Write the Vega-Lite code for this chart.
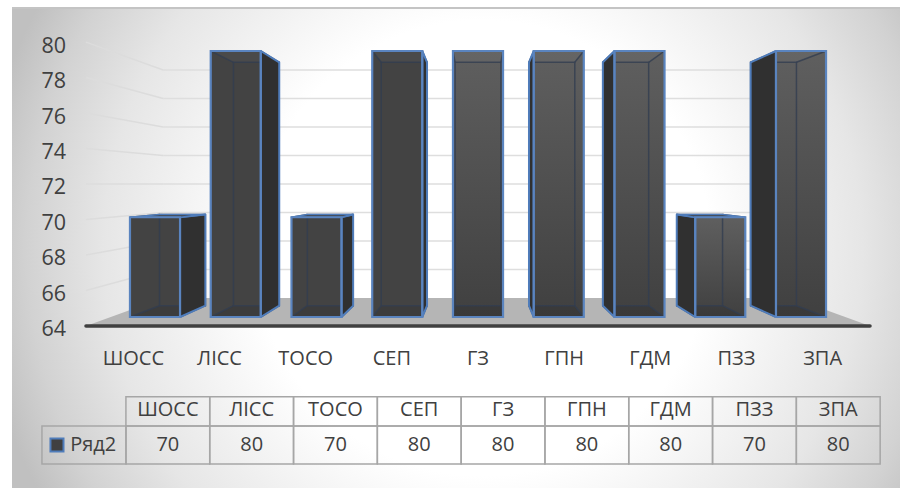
{
"$schema":"https://vega.github.io/schema/vega-lite/v6.json",
"width":888,"height":480,"autosize":{"type":"none"},
"padding":{"left":12,"top":8,"right":0,"bottom":0},
"background":"#ffffff",
"config":{"view":{"stroke":null},"axis":{"disable":true},"text":{"font":"Open Sans","fill":"#404040"}},
"datasets":{
"bars":[{"cat":"ШОСС","value":70},{"cat":"ЛІСС","value":80},{"cat":"ТОСО","value":70},{"cat":"СЕП","value":80},{"cat":"ГЗ","value":80},{"cat":"ГПН","value":80},{"cat":"ГДМ","value":80},{"cat":"ПЗЗ","value":70},{"cat":"ЗПА","value":80}],
"ticks":[{"tick":64},{"tick":66},{"tick":68},{"tick":70},{"tick":72},{"tick":74},{"tick":76},{"tick":78},{"tick":80}],
"planes":[{"plane":"front"},{"plane":"back"}],
"series":[{"name":"Ряд2"}]
},
"layer":[
{"data":{"values":[{}]},"mark":{"type":"rect","fill":{"gradient":"radial","x1":0.53,"y1":0.5,"r1":0,"x2":0.53,"y2":0.5,"r2":0.57,"stops":[{"offset":0,"color":"#ffffff"},{"offset":0.45,"color":"#ffffff"},{"offset":0.75,"color":"#e6e6e6"},{"offset":0.9,"color":"#d2d2d2"},{"offset":1,"color":"#c0c0c0"}]}}},
{"data":{"values":[{}]},"mark":{"type":"rule","color":"#c4c4c4","strokeWidth":2},
"encoding":{"y":{"datum":10.586,"type":"quantitative","scale":{"domain":[-18.286,10.586],"nice":false,"zero":false}}}},

{"data":{"name":"ticks"},
"transform":[{"calculate":"(datum.tick-72)*0.857","as":"yb"},{"calculate":"(datum.tick-72)*1.067","as":"yf"},{"calculate":"-4.55*0.857","as":"xl"},{"calculate":"4.55*0.857","as":"xr"},{"calculate":"-4.55*1.067","as":"xa"}],
"layer":[
{"transform":[{"filter":"datum.tick>64"}],"mark":{"type":"rule","color":"#dedede","strokeWidth":1.5},
"encoding":{"x":{"field":"xl","type":"quantitative","scale":{"domain":[-5.771,5.226],"nice":false,"zero":false}},"x2":{"field":"xr"},"y":{"field":"yb","type":"quantitative","scale":{"domain":[-18.286,10.586],"nice":false,"zero":false}}}},
{"transform":[{"filter":"datum.tick>64"}],"mark":{"type":"rule","color":"#dcdcdc","strokeWidth":1.5},
"encoding":{"x":{"field":"xa","type":"quantitative","scale":{"domain":[-5.771,5.226],"nice":false,"zero":false}},"x2":{"field":"xl"},"y":{"field":"yf","type":"quantitative","scale":{"domain":[-18.286,10.586],"nice":false,"zero":false}},"y2":{"field":"yb"}}},
{"mark":{"type":"text","align":"right","baseline":"middle","dx":-20,"dy":4.5,"fontSize":21.5},
"encoding":{"x":{"field":"xa","type":"quantitative","scale":{"domain":[-5.771,5.226],"nice":false,"zero":false}},"y":{"field":"yf","type":"quantitative","scale":{"domain":[-18.286,10.586],"nice":false,"zero":false}},"text":{"field":"tick"}}}
]},

{"data":{"name":"planes"},
"transform":[{"calculate":"datum.plane=='front'?1.067:0.857","as":"w"},{"calculate":"-8*datum.w","as":"Y"},{"calculate":"-4.55*datum.w","as":"xl"},{"calculate":"4.55*datum.w","as":"xr"}],
"mark":{"type":"area","orient":"horizontal","fill":"#b5b5b5"},
"encoding":{"y":{"field":"Y","type":"quantitative","scale":{"domain":[-18.286,10.586],"nice":false,"zero":false}},"x":{"field":"xl","type":"quantitative","scale":{"domain":[-5.771,5.226],"nice":false,"zero":false}},"x2":{"field":"xr"}}},

{"data":{"name":"planes"},
"transform":[{"filter":"datum.plane=='front'"},{"calculate":"-8*1.067","as":"Y"},{"calculate":"-4.55*1.067","as":"xl"},{"calculate":"4.55*1.067","as":"xr"}],
"mark":{"type":"rule","color":"#404040","strokeWidth":3.5,"strokeCap":"round"},
"encoding":{"y":{"field":"Y","type":"quantitative","scale":{"domain":[-18.286,10.586],"nice":false,"zero":false}},"x":{"field":"xl","type":"quantitative","scale":{"domain":[-5.771,5.226],"nice":false,"zero":false}},"x2":{"field":"xr"}}},

{"data":{"name":"bars"},
"transform":[
{"window":[{"op":"row_number","as":"n"}]},
{"calculate":"datum.n-5","as":"c"},
{"calculate":"0.31","as":"hw"},
{"calculate":"0.915","as":"wb"},
{"calculate":"datum.c-datum.hw","as":"xf0"},
{"calculate":"datum.c+datum.hw","as":"xf1"},
{"calculate":"datum.xf0*datum.wb","as":"xb0"},
{"calculate":"datum.xf1*datum.wb","as":"xb1"},
{"calculate":"datum.value-72","as":"yf"},
{"calculate":"-8","as":"y0f"},
{"calculate":"datum.yf*datum.wb","as":"yb"},
{"calculate":"datum.y0f*datum.wb","as":"y0b"},
{"calculate":"datum.c*1.067","as":"xlab"},
{"calculate":"-8*1.067","as":"ylab"},
{"calculate":"datum.c*1.0378+0.31","as":"tx"},
{"calculate":"datum.tx-0.519","as":"tx0"},
{"calculate":"datum.tx+0.519","as":"tx1"}
],
"layer":[
{"transform":[{"filter":"datum.c<0"}],"mark":{"type":"rect","fill":"#434343"},
"encoding":{"x":{"field":"xf0","type":"quantitative","scale":{"domain":[-5.771,5.226],"nice":false,"zero":false}},"x2":{"field":"xf1"},"y":{"field":"yf","type":"quantitative","scale":{"domain":[-18.286,10.586],"nice":false,"zero":false}},"y2":{"field":"y0f"}}},
{"transform":[{"filter":"datum.c>=0"}],"mark":{"type":"rect","fill":{"gradient":"linear","x1":0,"y1":0,"x2":0,"y2":1,"stops":[{"offset":0,"color":"#5f5f5f"},{"offset":1,"color":"#404040"}]}},
"encoding":{"x":{"field":"xf0","type":"quantitative","scale":{"domain":[-5.771,5.226],"nice":false,"zero":false}},"x2":{"field":"xf1"},"y":{"field":"yf","type":"quantitative","scale":{"domain":[-18.286,10.586],"nice":false,"zero":false}},"y2":{"field":"y0f"}}},

{"transform":[{"calculate":"[1,datum.wb]","as":"w"},{"flatten":["w"]},{"calculate":"datum.y0f*datum.w","as":"Y"},{"calculate":"(datum.c-datum.hw)*datum.w","as":"X0"},{"calculate":"(datum.c+datum.hw)*datum.w","as":"X1"}],
"mark":{"type":"area","orient":"horizontal","fill":"#000000","fillOpacity":0.1},
"encoding":{"detail":{"field":"cat"},"y":{"field":"Y","type":"quantitative","scale":{"domain":[-18.286,10.586],"nice":false,"zero":false}},"x":{"field":"X0","type":"quantitative","stack":null,"scale":{"domain":[-5.771,5.226],"nice":false,"zero":false}},"x2":{"field":"X1"}}},

{"transform":[{"filter":"datum.value>=72"},{"calculate":"[1,datum.wb]","as":"w"},{"flatten":["w"]},{"calculate":"(datum.value-72)*datum.w","as":"Y"},{"calculate":"(datum.c-datum.hw)*datum.w","as":"X0"},{"calculate":"(datum.c+datum.hw)*datum.w","as":"X1"}],
"mark":{"type":"area","orient":"horizontal","fill":"#ffffff","fillOpacity":0.04},
"encoding":{"detail":{"field":"cat"},"y":{"field":"Y","type":"quantitative","scale":{"domain":[-18.286,10.586],"nice":false,"zero":false}},"x":{"field":"X0","type":"quantitative","stack":null,"scale":{"domain":[-5.771,5.226],"nice":false,"zero":false}},"x2":{"field":"X1"}}},

{"mark":{"type":"rect","fillOpacity":0,"stroke":"#323d50","strokeOpacity":0.8,"strokeWidth":1.5},
"encoding":{"x":{"field":"xb0","type":"quantitative","scale":{"domain":[-5.771,5.226],"nice":false,"zero":false}},"x2":{"field":"xb1"},"y":{"field":"yb","type":"quantitative","scale":{"domain":[-18.286,10.586],"nice":false,"zero":false}},"y2":{"field":"y0b"}}},

{"transform":[{"calculate":"[-1,1]","as":"e"},{"flatten":["e"]},{"calculate":"[0,1]","as":"t"},{"flatten":["t"]},{"calculate":"datum.c+datum.e*datum.hw","as":"X"},{"calculate":"datum.X*datum.wb","as":"X2"},{"calculate":"datum.t?datum.yf:datum.y0f","as":"Y"},{"calculate":"datum.t?datum.yb:datum.y0b","as":"Y2"}],
"mark":{"type":"rule","color":"#323d50","opacity":0.8,"strokeWidth":1.5},
"encoding":{"x":{"field":"X","type":"quantitative","scale":{"domain":[-5.771,5.226],"nice":false,"zero":false}},"x2":{"field":"X2"},"y":{"field":"Y","type":"quantitative","scale":{"domain":[-18.286,10.586],"nice":false,"zero":false}},"y2":{"field":"Y2"}}},

{"transform":[{"filter":"datum.c!=0"},{"calculate":"[1,datum.wb]","as":"w"},{"flatten":["w"]},{"calculate":"(datum.c+(datum.c<0?1:-1)*datum.hw)*datum.w","as":"X"},{"calculate":"datum.yf*datum.w","as":"Y"},{"calculate":"datum.y0f*datum.w","as":"Y0"}],
"mark":{"type":"area","orient":"vertical","fill":"#303030","stroke":"#4f7cba","strokeWidth":2,"strokeJoin":"round"},
"encoding":{"detail":{"field":"cat"},"x":{"field":"X","type":"quantitative","scale":{"domain":[-5.771,5.226],"nice":false,"zero":false}},"y":{"field":"Y","type":"quantitative","stack":null,"scale":{"domain":[-18.286,10.586],"nice":false,"zero":false}},"y2":{"field":"Y0"}}},

{"transform":[{"filter":"datum.value<72"},{"calculate":"[1,datum.wb]","as":"w"},{"flatten":["w"]},{"calculate":"(datum.value-72)*datum.w","as":"Y"},{"calculate":"(datum.c-datum.hw)*datum.w","as":"X0"},{"calculate":"(datum.c+datum.hw)*datum.w","as":"X1"}],
"mark":{"type":"area","orient":"horizontal","fill":"#404040","stroke":"#4f7cba","strokeWidth":1.5,"strokeJoin":"round"},
"encoding":{"detail":{"field":"cat"},"y":{"field":"Y","type":"quantitative","scale":{"domain":[-18.286,10.586],"nice":false,"zero":false}},"x":{"field":"X0","type":"quantitative","stack":null,"scale":{"domain":[-5.771,5.226],"nice":false,"zero":false}},"x2":{"field":"X1"}}},

{"mark":{"type":"rect","fillOpacity":0,"stroke":"#5a84bf","strokeWidth":2.2},
"encoding":{"x":{"field":"xf0","type":"quantitative","scale":{"domain":[-5.771,5.226],"nice":false,"zero":false}},"x2":{"field":"xf1"},"y":{"field":"yf","type":"quantitative","scale":{"domain":[-18.286,10.586],"nice":false,"zero":false}},"y2":{"field":"y0f"}}},

{"mark":{"type":"text","baseline":"middle","dy":33,"fontSize":20},
"encoding":{"x":{"field":"xlab","type":"quantitative","scale":{"domain":[-5.771,5.226],"nice":false,"zero":false}},"y":{"field":"ylab","type":"quantitative","scale":{"domain":[-18.286,10.586],"nice":false,"zero":false}},"text":{"field":"cat"}}},

{"mark":{"type":"rect","fillOpacity":0,"stroke":"#a6a6a6","strokeWidth":1.5},
"encoding":{"x":{"field":"tx0","type":"quantitative","scale":{"domain":[-5.771,5.226],"nice":false,"zero":false}},"x2":{"field":"tx1"},"y":{"datum":-12.794,"type":"quantitative","scale":{"domain":[-18.286,10.586],"nice":false,"zero":false}},"y2":{"datum":-14.556}}},
{"mark":{"type":"rect","fillOpacity":0,"stroke":"#a6a6a6","strokeWidth":1.5},
"encoding":{"x":{"field":"tx0","type":"quantitative","scale":{"domain":[-5.771,5.226],"nice":false,"zero":false}},"x2":{"field":"tx1"},"y":{"datum":-14.556,"type":"quantitative","scale":{"domain":[-18.286,10.586],"nice":false,"zero":false}},"y2":{"datum":-16.842}}},
{"mark":{"type":"text","baseline":"middle","fontSize":20},
"encoding":{"x":{"field":"tx","type":"quantitative","scale":{"domain":[-5.771,5.226],"nice":false,"zero":false}},"y":{"datum":-13.62,"type":"quantitative","scale":{"domain":[-18.286,10.586],"nice":false,"zero":false}},"text":{"field":"cat"}}},
{"mark":{"type":"text","baseline":"middle","fontSize":20},
"encoding":{"x":{"field":"tx","type":"quantitative","scale":{"domain":[-5.771,5.226],"nice":false,"zero":false}},"y":{"datum":-15.72,"type":"quantitative","scale":{"domain":[-18.286,10.586],"nice":false,"zero":false}},"text":{"field":"value"}}}
]},

{"data":{"name":"series"},
"layer":[
{"mark":{"type":"rect","fillOpacity":0,"stroke":"#a6a6a6","strokeWidth":1.5},
"encoding":{"x":{"datum":-5.4,"type":"quantitative","scale":{"domain":[-5.771,5.226],"nice":false,"zero":false}},"x2":{"datum":-4.359},"y":{"datum":-14.556,"type":"quantitative","scale":{"domain":[-18.286,10.586],"nice":false,"zero":false}},"y2":{"datum":-16.842}}},
{"mark":{"type":"point","shape":"square","filled":true,"size":170,"fill":"#404040","fillOpacity":1,"stroke":"#4f7cba","strokeWidth":2,"opacity":1},
"encoding":{"x":{"datum":-5.214,"type":"quantitative","scale":{"domain":[-5.771,5.226],"nice":false,"zero":false}},"y":{"datum":-15.7,"type":"quantitative","scale":{"domain":[-18.286,10.586],"nice":false,"zero":false}}}},
{"mark":{"type":"text","align":"left","baseline":"middle","fontSize":20},
"encoding":{"x":{"datum":-5.05,"type":"quantitative","scale":{"domain":[-5.771,5.226],"nice":false,"zero":false}},"y":{"datum":-15.72,"type":"quantitative","scale":{"domain":[-18.286,10.586],"nice":false,"zero":false}},"text":{"field":"name"}}}
]}
]
}
